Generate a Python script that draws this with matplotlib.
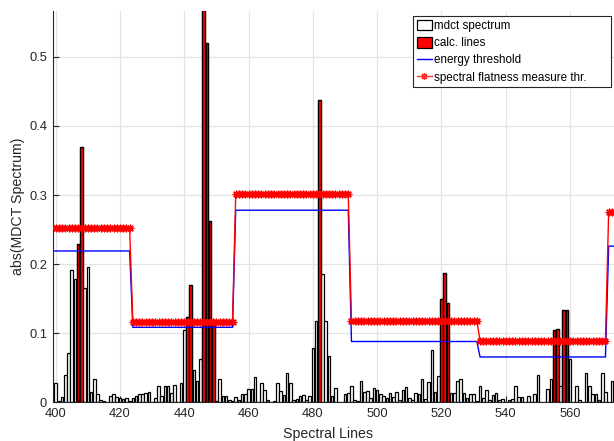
import numpy as np
import matplotlib
matplotlib.use("Agg")
import matplotlib.pyplot as plt
from matplotlib.patches import Patch
from matplotlib.lines import Line2D

plt.rcParams['font.family'] = ['Liberation Sans', 'DejaVu Sans']

# ---------------- data ----------------
first_line = 399
spectrum = [
    0.013, 0.0275, 0.002, 0.008, 0.040, 0.072, 0.191, 0.179, 0.229, 0.370,   # 399-408
    0.166, 0.196, 0.015, 0.033, 0.0125, 0.003, 0.002, 0.001, 0.0095, 0.0125,  # 409-418
    0.0075, 0.0065, 0.005, 0.0065, 0.002, 0.006, 0.0095, 0.0125, 0.012, 0.013,  # 419-428
    0.0145, 0.001, 0.0065, 0.023, 0.009, 0.023, 0.024, 0.013, 0.025, 0.001,   # 429-438
    0.0275, 0.105, 0.124, 0.170, 0.047, 0.031, 0.062, 0.570, 0.520, 0.263,    # 439-448
    0.116, 0.002, 0.034, 0.0095, 0.0095, 0.004, 0.002, 0.007, 0.004, 0.012,   # 449-458
    0.012, 0.019, 0.019, 0.037, 0.001, 0.028, 0.018, 0.003, 0.001, 0.002,     # 459-468
    0.028, 0.016, 0.011, 0.043, 0.028, 0.003, 0.005, 0.0095, 0.011, 0.003,    # 469-478
    0.0095, 0.078, 0.118, 0.437, 0.186, 0.118, 0.067, 0.0095, 0.020, 0.001,   # 479-488
    0.001, 0.0115, 0.013, 0.024, 0.003, 0.002, 0.031, 0.015, 0.016, 0.006,    # 489-498
    0.020, 0.018, 0.012, 0.0095, 0.006, 0.013, 0.007, 0.0145, 0.003, 0.018,   # 499-508
    0.022, 0.006, 0.004, 0.013, 0.0115, 0.033, 0.005, 0.029, 0.075, 0.015,    # 509-518
    0.0385, 0.1495, 0.187, 0.143, 0.014, 0.014, 0.031, 0.033, 0.014, 0.006,   # 519-528
    0.0115, 0.0115, 0.002, 0.023, 0.006, 0.018, 0.003, 0.0105, 0.013, 0.004,  # 529-538
    0.005, 0.001, 0.003, 0.005, 0.024, 0.008, 0.007, 0.001, 0.0095, 0.001,    # 539-548
    0.012, 0.040, 0.001, 0.001, 0.019, 0.034, 0.105, 0.106, 0.024, 0.134,     # 549-558
    0.134, 0.062, 0.001, 0.024, 0.004, 0.001, 0.043, 0.024, 0.0115, 0.0115,   # 559-568
    0.004, 0.043, 0.0145, 0.001, 0.031,                                       # 569-573
]
calc_lines = [407, 408, 441, 442, 446, 447, 448, 449, 482, 520, 521, 522, 555, 556, 558, 559]

seg_start = [399, 424, 456, 492, 532, 572]
seg_end = [423, 455, 491, 531, 571, 574]
energy_thr = [0.219, 0.1085, 0.278, 0.088, 0.0656, 0.226]
sfm_thr = [0.252, 0.116, 0.301, 0.118, 0.0887, 0.275]

x_ticks = [400, 420, 440, 460, 480, 500, 520, 540, 560]
y_ticks = [0, 0.1, 0.2, 0.3, 0.4, 0.5]
y_tick_labels = ['0', '0.1', '0.2', '0.3', '0.4', '0.5']

# ---------------- derived ----------------
lines_x = np.arange(first_line, first_line + len(spectrum))
spec = np.array(spectrum)
calc_x = np.array(calc_lines)
calc_y = spec[calc_x - first_line]

thr_x = np.concatenate([np.arange(s, e + 1) for s, e in zip(seg_start, seg_end)])
energy_y = np.concatenate([np.full(e - s + 1, v) for s, e, v in zip(seg_start, seg_end, energy_thr)])
sfm_y = np.concatenate([np.full(e - s + 1, v) for s, e, v in zip(seg_start, seg_end, sfm_thr)])

# ---------------- figure ----------------
W, H = 614, 441
fig = plt.figure(figsize=(W / 100, H / 100), dpi=100)
ax_left, ax_bottom, ax_top = 52.7, 402.3, 11.0
ax = fig.add_axes([ax_left / W, (H - ax_bottom) / H, (W - ax_left) / W, (ax_bottom - ax_top) / H])

ax.set_xlim(399.07, 573.66)
ax.set_ylim(0, 0.5663)

ax.grid(True, color='#e3e3e3', lw=0.9)
ax.set_axisbelow(True)

ax.bar(lines_x, spec, width=0.8, facecolor='white', edgecolor='black', lw=0.9, zorder=2)
ax.bar(calc_x, calc_y, width=0.8, facecolor='red', edgecolor='black', lw=0.9, zorder=3)

ax.plot(thr_x, energy_y, color='blue', lw=1.0, zorder=4)
ax.plot(thr_x, sfm_y, color='red', lw=1.0, marker=(8, 2, 0), ms=5.5, mew=0.9, zorder=5)

ax.set_xticks(x_ticks)
ax.set_yticks(y_ticks)
ax.set_yticklabels(y_tick_labels)
ax.tick_params(direction='in', length=4, width=0.8, colors='#262626', labelsize=9.3, pad=4)
for s in ['top', 'right']:
    ax.spines[s].set_visible(False)
for s in ['left', 'bottom']:
    ax.spines[s].set_color('#262626')
    ax.spines[s].set_linewidth(0.8)

ax.set_xlabel('Spectral Lines', fontsize=10.2, color='#262626')
ax.xaxis.set_label_coords((328 - ax_left) / (W - ax_left), -(427 - ax_bottom) / (ax_bottom - ax_top))
ax.set_ylabel('abs(MDCT Spectrum)', fontsize=10.2, color='#262626')
ax.yaxis.set_label_coords(-(ax_left - 25) / (W - ax_left), 0.5)

handles = [
    Patch(facecolor='white', edgecolor='black', lw=0.9),
    Patch(facecolor='red', edgecolor='black', lw=0.9),
    Line2D([], [], color='blue', lw=1.0),
    Line2D([], [], color='#ff3030', lw=1.0, marker=(8, 2, 0), ms=5, mew=0.9),
]
labels = ['mdct spectrum', 'calc. lines', 'energy threshold', 'spectral flatness measure thr.']
leg_l, leg_r, leg_t, leg_b = 413, 610.7, 16, 86
leg = fig.legend(handles, labels, loc='upper left',
                 bbox_to_anchor=(leg_l / W, 1 - leg_b / H, (leg_r - leg_l) / W, (leg_b - leg_t) / H),
                 mode='expand', bbox_transform=fig.transFigure, fontsize=8.4, frameon=True,
                 fancybox=False, framealpha=1, edgecolor='#262626', borderpad=0.3,
                 labelspacing=0.42, handlelength=1.37, handleheight=1.05, handletextpad=0.15,
                 borderaxespad=0, numpoints=1)
leg.get_frame().set_linewidth(0.8)

fig.savefig('out.png', dpi=100)
